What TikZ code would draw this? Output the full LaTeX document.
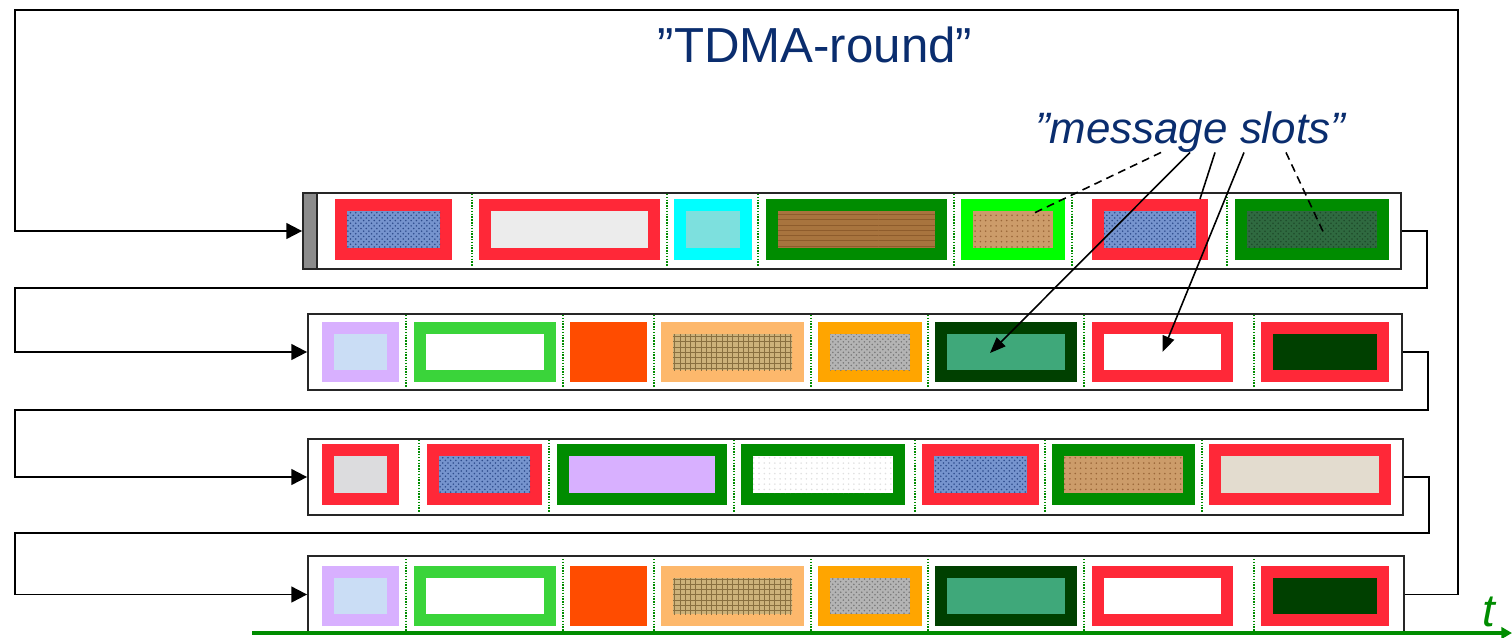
\documentclass[tikz,border=0pt]{standalone}
\usepackage{fontspec}
\setmainfont{Liberation Sans}
\usepackage{xcolor}
\usepackage{tikz}
\usetikzlibrary{positioning,calc,fit,patterns,arrows.meta}

\definecolor{cred}{HTML}{FF2838}
\definecolor{ccyan}{HTML}{00FFFF}
\definecolor{cgreen}{HTML}{008C00}
\definecolor{clime}{HTML}{00FF00}
\definecolor{clgreen}{HTML}{3AD43A}
\definecolor{clav}{HTML}{D8B0FF}
\definecolor{corred}{HTML}{FF4C00}
\definecolor{cpeach}{HTML}{FDB86C}
\definecolor{corange}{HTML}{FFA500}
\definecolor{cdkgreen}{HTML}{004000}
\definecolor{cteal}{HTML}{3FA87A}
\definecolor{clgray}{HTML}{ECECEC}
\definecolor{cpaleteal}{HTML}{7DE0DE}
\definecolor{cbar}{HTML}{8C8C8C}
\definecolor{navy}{HTML}{0A2D6E}
\definecolor{texblue}{HTML}{7694CE}
\definecolor{texbluedk}{HTML}{2E4C8C}
\definecolor{texwood}{HTML}{A8743E}
\definecolor{texwooddk}{HTML}{8E5C2C}
\definecolor{texsand}{HTML}{CC9C6A}
\definecolor{texsanddk}{HTML}{9A6638}
\definecolor{texmarble}{HTML}{2F6A40}
\definecolor{texmarbledk}{HTML}{1E4A2A}
\definecolor{texcloud}{HTML}{CADDF5}
\definecolor{texburlap}{HTML}{CDB27A}
\definecolor{texburlapdk}{HTML}{8A7040}
\definecolor{texgranite}{HTML}{B4B4B4}
\definecolor{texgranitedk}{HTML}{787878}
\definecolor{texgmarble}{HTML}{DCDCDE}
\definecolor{texbeige}{HTML}{E3DCCF}

\tikzset{
  slot/.style={inner sep=0pt, outer sep=0pt},
  rowbox/.style={draw=black!85, line width=1pt, inner sep=0pt},
  slotsep/.style={cgreen, line width=0.6pt, dash pattern=on 0.8pt off 0.8pt},
  flow/.style={line width=1.1pt, -{Triangle[length=9pt,width=9pt]}},
  leader/.style={line width=0.9pt},
  leaderarrow/.style={leader, -{Triangle[length=9pt,width=7pt]}},
  leaderdash/.style={leader, dash pattern=on 4.5pt off 3pt},
  % inner textures
  tnone/.style={},
  twhite/.style={fill=white},
  tlgray/.style={fill=clgray},
  tpaleteal/.style={fill=cpaleteal},
  tteal/.style={fill=cteal},
  tlav/.style={fill=clav},
  tdkgreen/.style={fill=cdkgreen},
  tbeige/.style={fill=texbeige},
  tgmarble/.style={fill=texgmarble},
  tcloud/.style={fill=texcloud},
  tblue/.style={preaction={fill=texblue}, pattern=crosshatch dots, pattern color=texbluedk},
  twood/.style={preaction={fill=texwood}, pattern=horizontal lines, pattern color=texwooddk},
  tsand/.style={preaction={fill=texsand}, pattern=dots, pattern color=texsanddk},
  tmarble/.style={preaction={fill=texmarble}, pattern=crosshatch dots, pattern color=texmarbledk},
  tburlap/.style={preaction={fill=texburlap}, pattern=grid, pattern color=texburlapdk},
  tgranite/.style={preaction={fill=texgranite}, pattern=crosshatch dots, pattern color=texgranitedk},
  tdots/.style={preaction={fill=white}, pattern=dots, pattern color=black!12}
}

\begin{document}
\begin{tikzpicture}[x=0.02cm, y=-0.02cm]
    \useasboundingbox (0,0) rectangle (1512,637);

    % Rows
    \node[rowbox, fit={(303,193) (1401,269)}] (row1) {};
    \node[rowbox, fill=cbar, fit={(303,193) (317,269)}] (bar) {};
    \node[rowbox, fit={(308,314) (1402,390)}] (row2) {};
    \node[rowbox, fit={(308,439) (1403,515)}] (row3) {};
    \node[rowbox, fit={(308,556) (1404,633)}] (row4) {};

    % Slots of row 1
    \foreach \n/\a/\b/\oc/\ic in {1/335/452/cred/tblue, 2/479/660/cred/tlgray,
        3/674/752/ccyan/tpaleteal, 4/766/947/cgreen/twood, 5/961/1065/clime/tsand,
        6/1092/1208/cred/tblue, 7/1235/1389/cgreen/tmarble} {
        \node[slot, fill=\oc, fit={(\a,199) (\b,260)}] (r1-\n) {};
        \node[slot, \ic, fit={($(r1-\n.north west)+(12,12)$) ($(r1-\n.south east)+(-12,-12)$)}] (r1-\n-in) {};
    }
    \foreach \x in {472, 667, 758, 954, 1072, 1227} {
        \draw[slotsep] (\x,194) -- (\x,267);
    }

    % Slots of rows 2 and 4
    \foreach \r/\t/\bt in {2/322/382, 4/566/626} {
        \foreach \n/\a/\b/\oc/\ic in {1/322/399/clav/tcloud, 2/414/556/clgreen/twhite,
            3/570/647/corred/tnone, 4/661/804/cpeach/tburlap, 5/818/922/corange/tgranite,
            6/935/1077/cdkgreen/tteal, 7/1092/1233/cred/twhite, 8/1261/1389/cred/tdkgreen} {
            \node[slot, fill=\oc, fit={(\a,\t) (\b,\bt)}] (r\r-\n) {};
            \node[slot, \ic, fit={($(r\r-\n.north west)+(12,12)$) ($(r\r-\n.south east)+(-12,-12)$)}] (r\r-\n-in) {};
        }
        \foreach \x in {406, 563, 654, 811, 928, 1084, 1254} {
            \draw[slotsep] (\x,\t-7) -- (\x,\bt+6);
        }
    }

    % Slots of row 3
    \foreach \n/\a/\b/\oc/\ic in {1/322/399/cred/tgmarble, 2/427/542/cred/tblue,
        3/557/727/cgreen/tlav, 4/741/905/cgreen/tdots, 5/922/1039/cred/tblue,
        6/1052/1195/cgreen/tsand, 7/1209/1391/cred/tbeige} {
        \node[slot, fill=\oc, fit={(\a,444) (\b,505)}] (r3-\n) {};
        \node[slot, \ic, fit={($(r3-\n.north west)+(12,12)$) ($(r3-\n.south east)+(-12,-12)$)}] (r3-\n-in) {};
    }
    \foreach \x in {419, 549, 734, 915, 1045, 1202} {
        \draw[slotsep] (\x,440) -- (\x,513);
    }

    % Row to row
    \draw[flow] (row1.east) -| (1427,288) -- (15,288) |- (row2.west);
    \draw[flow] (row2.east) -| (1428,410) -- (15,410) |- (row3.west);
    \draw[flow] (row3.east) -| (1429,533) -- (15,533) |- (row4.west);
    \draw[flow] (row4.east) -| (1458,10) -- (15,10) |- (row1.west);

    % Labels
    \node[anchor=base, inner sep=0pt, navy, font=\fontsize{28}{32}\selectfont] (round) at (815,62) {”TDMA-round”};
    \node[anchor=base, inner sep=0pt, navy, font=\fontsize{25}{30}\selectfont\itshape] (slots) at (1190,143) {”message slots”};

    % Leaders
    \draw[leaderdash] ($(slots.south)+(-29,0)$) -- ($(r1-5.center)+(18,-15)$);
    \draw[leaderarrow] (slots.south) -- ($(r2-6.center)+(-16,1)$);
    \draw[leader] ($(slots.south)+(25,0)$) -- ($(r1-6.north east)+(-8,0)$);
    \draw[leaderarrow] ($(slots.south)+(54,0)$) -- (r2-7.center);
    \draw[leaderdash] ($(slots.south)+(96,0)$) -- ($(r1-7.center)+(11,2)$);

    % Time axis
    \coordinate (t0) at (252,633);
    \coordinate (t1) at (1512,633);
    \draw[cgreen, line width=2.2pt, -{Triangle[length=6pt,width=6.5pt]}] (t0) -- (t1);
    \node[anchor=base, inner sep=0pt, cgreen, font=\fontsize{26}{30}\selectfont\itshape] (tlabel) at (1489,626) {t};

\end{tikzpicture}
\end{document}
